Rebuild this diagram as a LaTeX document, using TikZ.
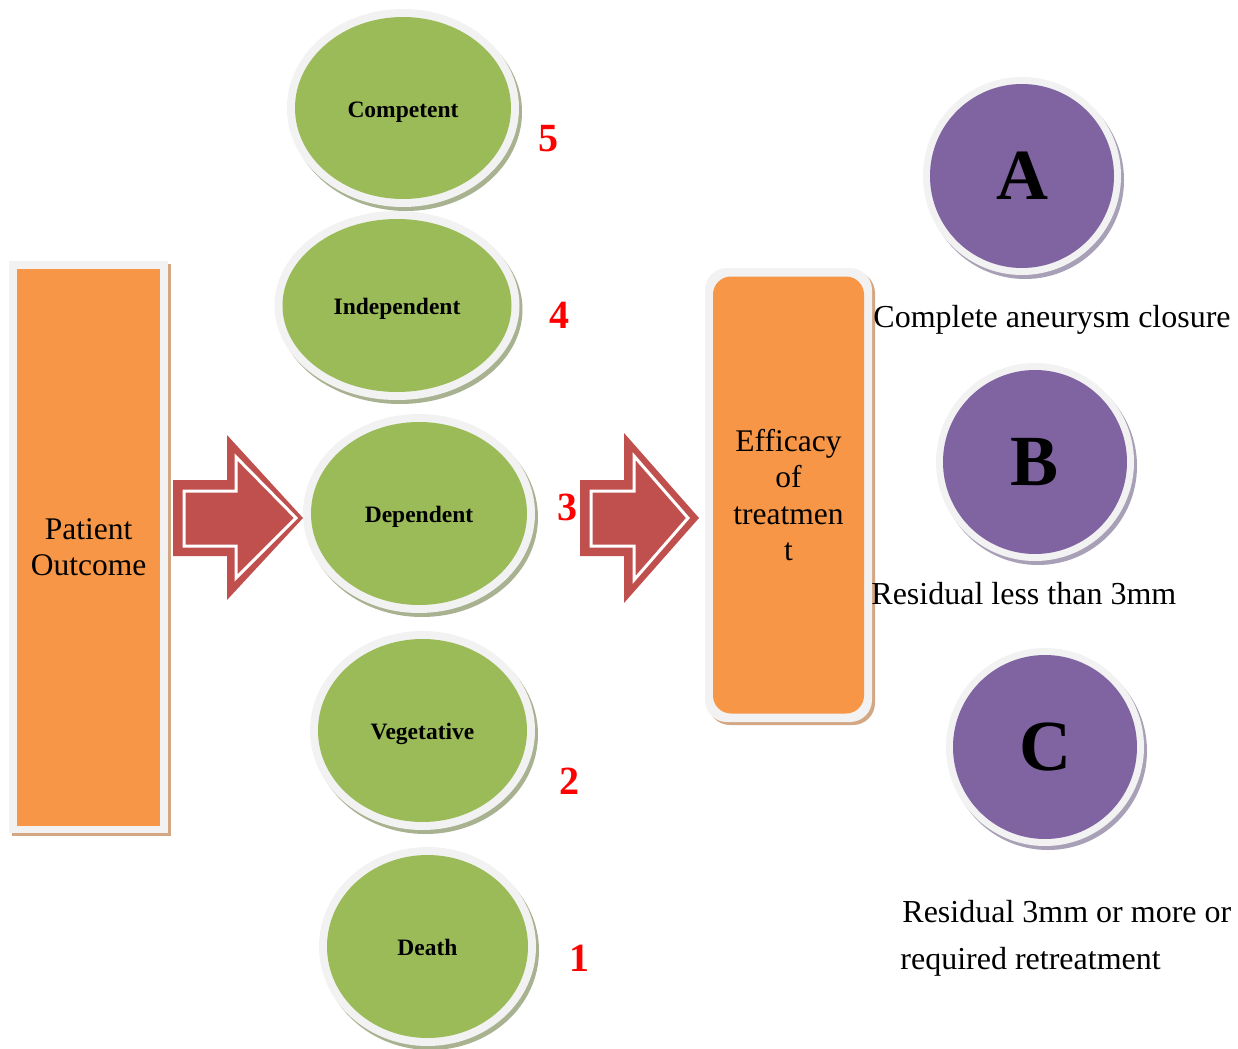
\documentclass[tikz,border=0pt]{standalone}
\usepackage{fontspec}
\setmainfont{Liberation Serif}
\usetikzlibrary{shapes.geometric,shadows}
\definecolor{gfill}{HTML}{9BBB59}
\definecolor{gshadow}{HTML}{A8B290}
\definecolor{frame}{HTML}{F2F2F2}
\definecolor{ofill}{HTML}{F79646}
\definecolor{oshadow}{HTML}{D3A783}
\definecolor{pfill}{HTML}{8064A2}
\definecolor{pshadow}{HTML}{A8A0B6}
\definecolor{arrred}{HTML}{C0504D}
\definecolor{numred}{HTML}{FF0000}
\tikzset{
  gframe/.style={ellipse, inner sep=0pt, fill=frame,
    drop shadow={shadow xshift=1.5pt, shadow yshift=-2pt, fill=gshadow, opacity=1}},
  ginner/.style={ellipse, inner sep=0pt, fill=gfill, text height=9pt, text depth=0pt,
    font=\fontsize{11.75}{13}\selectfont\bfseries},
  pframe/.style={circle, inner sep=0pt, fill=frame, minimum size=99pt,
    drop shadow={shadow xshift=1.5pt, shadow yshift=-2pt, fill=pshadow, opacity=1}},
  pinner/.style={circle, inner sep=0pt, fill=pfill, minimum size=92pt, font=\fontsize{36}{40}\selectfont\bfseries},
  oframe/.style={rectangle, inner sep=0pt, fill=frame,
    drop shadow={shadow xshift=1.5pt, shadow yshift=-1.5pt, fill=oshadow, opacity=1}},
  oinner/.style={rectangle, inner sep=0pt, fill=ofill, align=center, font=\fontsize{15.75}{18.25}\selectfont},
  num/.style={text=numred, font=\fontsize{20}{22}\selectfont\bfseries, inner sep=0pt},
  lbl/.style={anchor=base west, inner sep=0pt, font=\fontsize{16}{18}\selectfont},
  arrout/.style={fill=arrred},
  arrin/.style={fill=arrred, draw=white, line width=1.5pt, line join=miter},
}
\newcommand\gell[6]{%
  \node[gframe, minimum width=#4pt+8pt, minimum height=#5pt+8pt] (#1f) at (#2,#3) {};
  \node[ginner, minimum width=#4pt, minimum height=#5pt] (#1) at (#2,#3) {#6};}
\newcommand\pcirc[4]{%
  \node[pframe] (#1f) at (#2,#3) {};
  \node[pinner] (#1) at (#2,#3) {#4};}
\begin{document}
\begin{tikzpicture}[x=0.5pt,y=-0.5pt]
\useasboundingbox (0,0) rectangle (1238,1049);
% Patient Outcome box
\node[oframe, minimum width=79.5pt, minimum height=286pt] (pof) at (88.5,547) {};
\node[oinner, minimum width=71.5pt, minimum height=278.5pt] (po) at (88.5,547) {Patient\\Outcome};
% Green ellipses
\gell{comp}{403}{108}{108}{91}{Competent}
\gell{indep}{397}{305.5}{114.5}{86.5}{Independent}
\gell{dep}{419}{513.5}{108}{91.5}{Dependent}
\gell{veg}{422.5}{730.5}{104.5}{91.5}{Vegetative}
\gell{death}{427.5}{946.5}{100.5}{91.5}{Death}
% numbers
\node[num] (n5) at (548,139) {5};
\node[num] (n4) at (559,315) {4};
\node[num] (n3) at (567,507) {3};
\node[num] (n2) at (569,781) {2};
\node[num] (n1) at (579,958) {1};
% Arrow 1
\fill[arrout] (173,480) -- (227,480) -- (227,435) -- (303,518) -- (227,600) -- (227,556) -- (173,556) -- cycle;
\draw[arrin] (184,491) -- (236,491) -- (236,457) -- (296,518) -- (236,578) -- (236,546) -- (184,546) -- cycle;
% Arrow 2
\fill[arrout] (580,480) -- (624,480) -- (624,433) -- (699,518) -- (624,603) -- (624,556) -- (580,556) -- cycle;
\draw[arrin] (591,491) -- (634,491) -- (634,456) -- (688,518) -- (634,580) -- (634,546) -- (591,546) -- cycle;
% Efficacy box
\node[oframe, rounded corners=11pt, minimum width=83.5pt, minimum height=227pt] (eff) at (788.5,495) {};
\node[oinner, rounded corners=9pt, minimum width=75.5pt, minimum height=218.5pt] (ef) at (788.5,495) {Efficacy\\of\\treatmen\\t};
% Purple circles
\pcirc{ca}{1022}{176}{A}
\pcirc{cb}{1035}{462}{B}
\pcirc{cc}{1045}{747}{C}
% labels
\node[lbl] (la) at (873,327) {Complete aneurysm closure};
\node[lbl] (lb) at (871,604) {Residual less than 3mm};
\node[lbl] (lc1) at (902,922) {Residual 3mm or more or};
\node[lbl] (lc2) at (900,969) {required retreatment};
\end{tikzpicture}
\end{document}
